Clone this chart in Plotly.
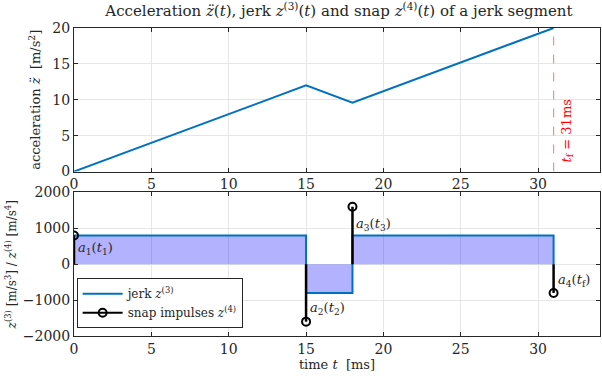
import plotly.graph_objects as go
from plotly.subplots import make_subplots

# ---- data ----
acc_t = [0, 15, 18, 31]
acc_v = [0, 12.0, 9.6, 20.0]

jerk_t = [0, 0, 15, 15, 18, 18, 31, 31]
jerk_v = [0, 800, 800, -800, -800, 800, 800, 0]

snap_t = [0, 15, 18, 31]
snap_v = [800, -1600, 1600, -800]
snap_labels = ["<i>a</i><sub>1</sub>(<i>t</i><sub>1</sub>)", "<i>a</i><sub>2</sub>(<i>t</i><sub>2</sub>)",
               "<i>a</i><sub>3</sub>(<i>t</i><sub>3</sub>)", "<i>a</i><sub>4</sub>(<i>t</i><sub>f</sub>)"]
label_y = [430, -1240, 1100, -440]

t_f = 31
x_ticks = [0, 5, 10, 15, 20, 25, 30]

FONT = "DejaVu Serif"
BLUE = "#0072BD"
TXT = "#262626"

fig = make_subplots(rows=2, cols=1, vertical_spacing=0.068)

fig.add_trace(go.Scatter(x=acc_t, y=acc_v, mode="lines", line=dict(color=BLUE, width=2),
                         showlegend=False), row=1, col=1)
fig.add_trace(go.Scatter(x=[t_f, t_f], y=[0, 20], mode="lines",
                         line=dict(color="rgba(255,0,0,0.45)", width=1.2, dash="dash"),
                         showlegend=False), row=1, col=1)

# jerk fill + line
fig.add_trace(go.Scatter(x=jerk_t, y=jerk_v, mode="none",
                         fill="tozeroy", fillcolor="rgba(0,0,255,0.3)",
                         showlegend=False, hoverinfo="skip"), row=2, col=1)
fig.add_trace(go.Scatter(x=jerk_t, y=jerk_v, mode="lines", line=dict(color=BLUE, width=2),
                         name="jerk <i>z</i><sup>(3)</sup>"), row=2, col=1)

# stems
sx, sy = [], []
for t, v in zip(snap_t, snap_v):
    sx += [t, t, None]
    sy += [0, v, None]
fig.add_trace(go.Scatter(x=sx, y=sy, mode="lines", line=dict(color="black", width=2.5),
                         showlegend=False), row=2, col=1)
fig.add_trace(go.Scatter(x=snap_t, y=snap_v, mode="markers",
                         marker=dict(symbol="circle-open", size=8, color="black", line=dict(width=2)),
                         showlegend=False), row=2, col=1)
fig.add_trace(go.Scatter(x=[None], y=[None], mode="lines+markers",
                         line=dict(color="black", width=2),
                         marker=dict(symbol="circle-open", size=8, color="black", line=dict(width=2)),
                         name="snap impulses <i>z</i><sup>(4)</sup>"), row=2, col=1)

for t, y, s in zip(snap_t, label_y, snap_labels):
    fig.add_annotation(x=t, y=y, text=s, showarrow=False, xanchor="left", xshift=2,
                       font=dict(family=FONT, size=13, color=TXT), row=2, col=1)

fig.add_annotation(x=t_f, y=5.6, text="<i>t</i><sub>f</sub> = 31ms", showarrow=False, textangle=-90,
                   xanchor="left", xshift=3, font=dict(family=FONT, size=13, color="red"), row=1, col=1)

axis_common = dict(showline=True, linecolor=TXT, linewidth=1, mirror="allticks",
                   ticks="inside", ticklen=4, tickcolor=TXT,
                   showgrid=True, gridcolor="#e6e6e6", zeroline=False,
                   tickfont=dict(family=FONT, size=14, color=TXT))

fig.update_xaxes(range=[0, 34], tickvals=x_ticks, **axis_common)
fig.update_xaxes(title=dict(text="time <i>t</i>  [ms]", font=dict(family=FONT, size=13, color=TXT),
                            standoff=1), row=2, col=1)
fig.update_yaxes(**axis_common)
fig.update_yaxes(range=[0, 20], tickvals=[0, 5, 10, 15, 20],
                 title=dict(text="acceleration <i>z̈</i>  [m/s<sup>2</sup>]",
                            font=dict(family=FONT, size=13, color=TXT), standoff=8),
                 row=1, col=1)
fig.update_yaxes(range=[-2000, 2000], tickvals=[-2000, -1000, 0, 1000, 2000],
                 title=dict(text="<i>z</i><sup>(3)</sup> [m/s<sup>3</sup>] / <i>z</i><sup>(4)</sup> [m/s<sup>4</sup>]",
                            font=dict(family=FONT, size=12, color=TXT), standoff=3),
                 row=2, col=1)

fig.update_layout(
    width=602, height=387,
    margin=dict(l=74, r=2, t=28, b=51),
    paper_bgcolor="white", plot_bgcolor="white",
    title=dict(text="Acceleration <i>z̈</i>(<i>t</i>), jerk <i>z</i><sup>(3)</sup>(<i>t</i>) and snap <i>z</i><sup>(4)</sup>(<i>t</i>) of a jerk segment",
               x=0.563, xanchor="center", y=0.972, yanchor="middle",
               font=dict(family=FONT, size=15, color=TXT)),
    legend=dict(x=0.005, y=0.025, xanchor="left", yanchor="bottom", bgcolor="white",
                bordercolor=TXT, borderwidth=1,
                font=dict(family=FONT, size=12, color=TXT),
                tracegroupgap=0, itemwidth=40),
)

fig.write_html("out.html")
